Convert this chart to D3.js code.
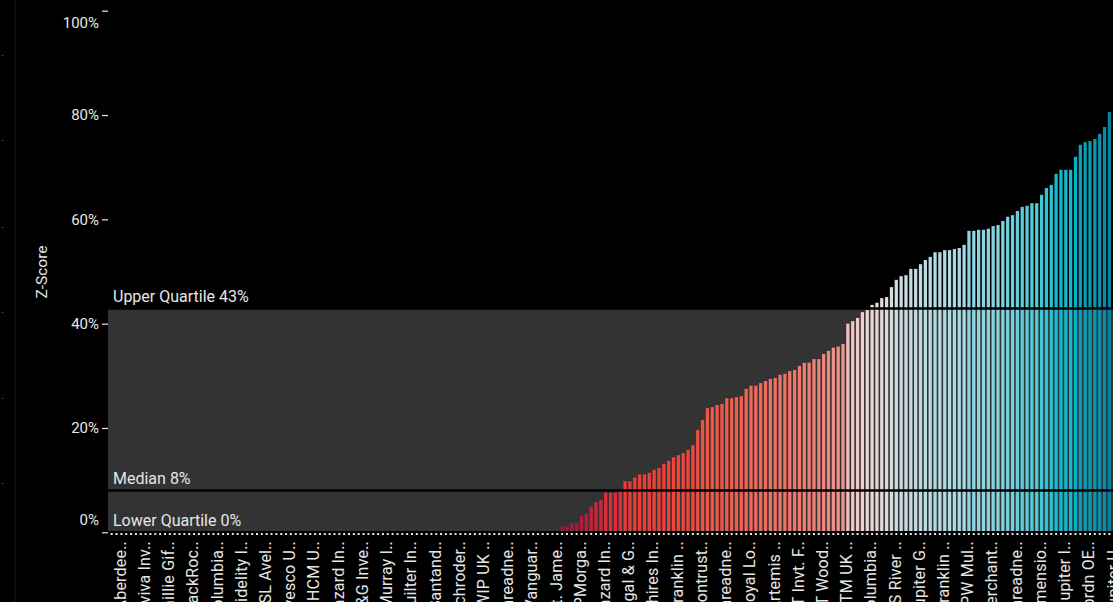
<!DOCTYPE html>
<html><head><meta charset="utf-8">
<script src="https://cdn.jsdelivr.net/npm/d3@7"></script>
<style>
html,body{margin:0;padding:0;background:#000;overflow:hidden;}
svg{display:block;}
text{font-family:Roboto,"Noto Sans",sans-serif;}
</style></head><body>
<svg id="chart" width="1113" height="602"></svg>
<script>
// ---------- data ----------
const values = [
  0,0,0,0,0,0,0,0,0,0, 0,0,0,0,0,0,0,0,0,0,
  0,0,0,0,0,0,0,0,0,0, 0,0,0,0,0,0,0,0,0,0,
  0,0,0,0,0,0,0,0,0,0, 0,0,0,0,0,0,0,0,0,0,
  0,0,0,0,0,0,0,0,0,0, 0,0,0,0,0,0,0,0,0,0,
  0,0,0,0,0,0,0,0,0,0, 0,0,
  0.3,1.1,1.1,1.8,1.8,3.2,3.6,4.9,5.8,6.2,
  7.6,7.6,7.6,8.2,9.8,9.8,10.5,11.1,11.1,11.4,
  12.0,12.3,13.1,13.7,14.4,14.8,15.2,15.8,16.7,19.6,
  21.5,23.8,24.0,24.4,24.6,25.7,25.7,25.9,26.1,27.5,
  28.1,28.1,28.6,29.0,29.4,29.6,30.2,30.4,30.9,31.1,
  31.9,32.5,32.5,33.2,33.2,34.2,34.8,35.4,35.6,36.1,
  40.0,40.5,41.1,42.2,42.6,43.6,44.0,44.9,45.1,47.0,
  48.4,49.1,49.3,50.5,50.5,51.4,52.2,52.8,53.7,53.7,
  54.1,54.1,54.3,54.5,55.1,57.8,57.8,58.0,58.0,58.2,
  58.7,58.9,59.7,60.5,60.8,61.6,62.4,62.6,63.1,63.1,
  64.7,66.0,66.6,68.7,69.5,69.5,69.5,72.0,74.3,74.8,
  75.0,75.4,76.4,77.7,80.6
];
// labels shown for every 5th bar
const tickLabels = [
  "Aberdee..","Aviva Inv..","Baillie Gif..","BlackRoc..","Columbia..","Fidelity I..",
  "FSL Avel..","Invesco U..","IOHCM U..","Lazard In..","M&G Inve..","Murray I..",
  "Quilter In..","Santand..","Schroder..","SWIP UK ..","Threadne..","Vanguar..",
  "St. Jame..","JPMorga..","Lazard In..","Legal & G..","Shires In..","Franklin ..",
  "Liontrust..","Threadne..","Royal Lo..","Artemis ..","FT Invt. F..","FT Wood..",
  "UTM UK ..","Columbia..","ES River ..","Jupiter G..","Franklin ..","EPW Mul..",
  "Merchant..","Threadne..","Dimensio..","Jupiter I..","abrdn OE..","Jupiter U.."
];
const labelEvery = 5;
const yTicks = [0,20,40,60,80,100];
const quartiles = [
  {name:"Lower Quartile", value:0, text:"0%"},
  {name:"Median", value:8, text:"8%"},
  {name:"Upper Quartile", value:42.9, text:"43%"}
];
const yTitle = "Z-Score";

// ---------- styles ----------
const colorDomain = [0, 4, 10, 25, 35, 39, 43, 47, 53, 60, 66, 71, 76, 81];
const colorRange  = ["#a0103a","#c41a3a","#f03a36","#f05a48","#f08a80","#f2baba",
                     "#eed6d6","#d6dde2","#b6dce6","#7cd2de","#30c4d4","#06b6ca","#0894ae","#0a7e9a"];
const color = d3.scaleLinear().domain(colorDomain).range(colorRange).clamp(true);

const svg = d3.select("#chart");
const W = 1113, H = 602;
const mLeft = 108, mRight = 1113.1, mTop = 10.7, mBottom = 532.3;

const idx = d3.range(values.length);
const x = d3.scaleBand().domain(idx).range([mLeft, mRight]).paddingInner(0.33).paddingOuter(0.43);
const y = d3.scaleLinear().domain([0,100]).range([mBottom, mTop]);

// faint left artifacts
svg.append("rect").attr("x",14).attr("y",0).attr("width",2).attr("height",H).attr("fill","#0c0c0c");
const sideMarks = svg.append("g");
[55,140,227,312,398,483].forEach(v => sideMarks.append("rect").attr("x",1).attr("y",v).attr("width",3).attr("height",1).attr("fill","#2a2a2a"));

// quartile band
const lq = quartiles[0].value, uq = quartiles[2].value;
svg.append("rect").attr("x", mLeft).attr("width", mRight-mLeft)
  .attr("y", y(uq)).attr("height", y(lq)-y(uq)).attr("fill", "#333333");

// bars
svg.append("g").selectAll("rect").data(idx).join("rect")
  .attr("x", i => x(i)).attr("width", x.bandwidth())
  .attr("y", i => y(values[i])).attr("height", i => y(0)-y(values[i]))
  .attr("fill", i => color(values[i]));

// quartile lines
svg.append("g").selectAll("line").data(quartiles).join("line")
  .attr("x1", mLeft).attr("x2", mRight)
  .attr("y1", d => y(d.value)).attr("y2", d => y(d.value))
  .attr("stroke", "#000").attr("stroke-width", 2.5);

svg.append("g").selectAll("text").data(quartiles).join("text")
  .attr("x", mLeft+5).attr("y", d => y(d.value)-6.5)
  .attr("fill", "#e6e6e6").attr("font-size", 16)
  .text(d => d.name + " " + d.text);

// y axis
const yAxis = svg.append("g").attr("transform", `translate(${mLeft},0)`)
  .call(d3.axisLeft(y).tickValues(yTicks).tickSize(6).tickPadding(3).tickFormat(d => d + "%"));
yAxis.select(".domain").remove();
yAxis.selectAll(".tick line").attr("stroke", "#e6e6e6").attr("stroke-width", 1.2);
yAxis.selectAll(".tick text").attr("fill", "#e6e6e6").attr("font-size", 15)
  .attr("font-family", "Roboto,'Noto Sans',sans-serif")
  .attr("transform", d => d === 100 ? "translate(0,12)" : d === 0 ? "translate(0,-13)" : null);

svg.append("text").attr("transform", "translate(42,272) rotate(-90)")
  .attr("text-anchor", "middle").attr("dominant-baseline", "central")
  .attr("fill", "#e6e6e6").attr("font-size", 15.5).text(yTitle);

// x axis ticks (every bar)
const xAxis = svg.append("g").attr("transform", `translate(0,${mBottom+0.7})`)
  .call(d3.axisBottom(x).tickSize(2).tickFormat(""));
xAxis.select(".domain").remove();
xAxis.selectAll(".tick line").attr("stroke", "#e6e6e6").attr("stroke-width", 2);

// x labels (every 5th bar)
svg.append("g").selectAll("text").data(tickLabels).join("text")
  .attr("transform", (d, k) => `translate(${x(k*labelEvery) + x.bandwidth()/2},541) rotate(-90)`)
  .attr("text-anchor", "end").attr("dy", "14px")
  .attr("fill", "#e6e6e6").attr("font-size", 16).attr("letter-spacing", "0.2px")
  .text(d => d);
</script>
</body></html>
